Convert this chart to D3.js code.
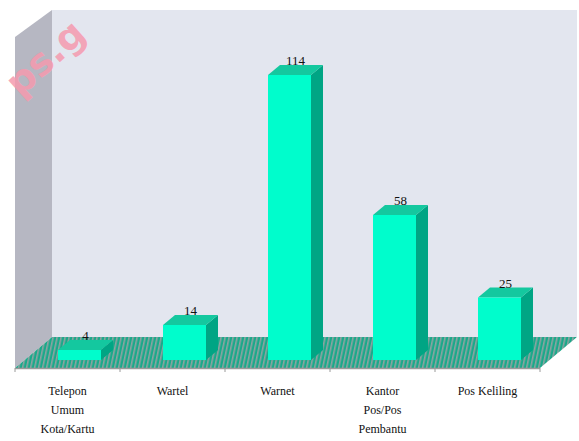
<!DOCTYPE html>
<html>
<head>
<meta charset="utf-8">
<script src="https://cdn.jsdelivr.net/npm/d3@7/dist/d3.min.js"></script>
<style>
  html, body { margin: 0; padding: 0; background: #ffffff; }
  svg { display: block; }
</style>
</head>
<body>
<svg id="chart" width="579" height="441"></svg>
<script>
// Akses layanan komunikasi: jumlah fasilitas per jenis
const categories = ["Telepon Umum Kota/Kartu", "Wartel", "Warnet", "Kantor Pos/Pos Pembantu", "Pos Keliling"];
const categoryLines = [["Telepon", "Umum", "Kota/Kartu"], ["Wartel"], ["Warnet"], ["Kantor", "Pos/Pos", "Pembantu"], ["Pos Keliling"]];
const values = [4, 14, 114, 58, 25];

const svg = d3.select("#chart");

// 3D box geometry
const floorFrontY = 368, floorBackY = 337;
const floorLeft = 15, floorRight = 540;
const depthX = 37, depthY = 31;
const barW = 43, barShift = 12, barDX = 12, barDY = 10;
const baseY = 360;

const x = d3.scaleBand().domain(categories).range([floorLeft, floorRight]).padding(0);
const y = d3.scaleLinear().domain([0, 114]).range([baseY, 75]);

// floor hatch pattern
const defs = svg.append("defs");
const pat = defs.append("pattern")
  .attr("id", "floorHatch").attr("patternUnits", "userSpaceOnUse")
  .attr("width", 4).attr("height", 8)
  .attr("patternTransform", "skewX(-12)");
pat.append("rect").attr("width", 4).attr("height", 8).attr("fill", "#1aa98a");
pat.append("rect").attr("x", 0).attr("width", 1.6).attr("height", 8).attr("fill", "#8fa3a2");

// back wall
svg.append("rect")
  .attr("x", floorLeft + depthX).attr("y", 10)
  .attr("width", 577 - (floorLeft + depthX)).attr("height", floorBackY - 10)
  .attr("fill", "#e3e6ef");

// left side wall
svg.append("path")
  .attr("d", `M${floorLeft},${6 + depthY} L${floorLeft + depthX},10 L${floorLeft + depthX},${floorBackY} L${floorLeft},${floorFrontY} Z`)
  .attr("fill", "#b6b7c2");

// floor
svg.append("path")
  .attr("d", `M${floorLeft},${floorFrontY} L${floorLeft + depthX},${floorBackY} L${floorRight + depthX},${floorBackY} L${floorRight},${floorFrontY} Z`)
  .attr("fill", "url(#floorHatch)");

// axis line along the floor front edge with category ticks
svg.append("line")
  .attr("x1", floorLeft).attr("x2", floorRight)
  .attr("y1", floorFrontY + 0.5).attr("y2", floorFrontY + 0.5)
  .attr("stroke", "#9a9a9a").attr("stroke-width", 1.5);
const tickPos = categories.map(c => x(c)).concat([floorRight]);
svg.selectAll("line.tick").data(tickPos).join("line")
  .attr("class", "tick")
  .attr("x1", d => d).attr("x2", d => d)
  .attr("y1", floorFrontY).attr("y2", floorFrontY + 4)
  .attr("stroke", "#9a9a9a").attr("stroke-width", 1);

// bars
const bars = svg.selectAll("g.bar").data(categories).join("g").attr("class", "bar");
bars.each(function (c, i) {
  const g = d3.select(this);
  const fl = x(c) + (x.bandwidth() - barW) / 2 + barShift;
  const top = y(values[i]);
  // right side
  g.append("path")
    .attr("d", `M${fl + barW},${top} L${fl + barW + barDX},${top - barDY} L${fl + barW + barDX},${baseY - barDY} L${fl + barW},${baseY} Z`)
    .attr("fill", "#00a584");
  // top
  g.append("path")
    .attr("d", `M${fl},${top} L${fl + barDX},${top - barDY} L${fl + barW + barDX},${top - barDY} L${fl + barW},${top} Z`)
    .attr("fill", "#14c89f");
  // front
  g.append("rect")
    .attr("x", fl).attr("y", top)
    .attr("width", barW).attr("height", baseY - top)
    .attr("fill", "#00fdcc");
  // value label
  g.append("text")
    .attr("x", fl + barW / 2 + 6).attr("y", top - barDY)
    .attr("text-anchor", "middle")
    .attr("font-family", "'Liberation Serif', 'DejaVu Serif', serif")
    .attr("font-size", 13)
    .attr("fill", "#111")
    .text(values[i]);
});

// category labels
categories.forEach((c, i) => {
  const t = svg.append("text")
    .attr("text-anchor", "middle")
    .attr("font-family", "'Liberation Serif', 'DejaVu Serif', serif")
    .attr("font-size", 12)
    .attr("fill", "#111");
  categoryLines[i].forEach((ln, j) => {
    t.append("tspan")
      .attr("x", x(c) + x.bandwidth() / 2)
      .attr("y", 395 + j * 19)
      .text(ln);
  });
});

// watermark
svg.append("text")
  .attr("transform", "translate(20,98) rotate(-42)")
  .attr("font-family", "'DejaVu Sans', sans-serif")
  .attr("font-weight", "bold")
  .attr("font-size", 38)
  .attr("fill", "#f59aae")
  .attr("fill-opacity", 0.85)
  .text("ps.g");
</script>
</body>
</html>
